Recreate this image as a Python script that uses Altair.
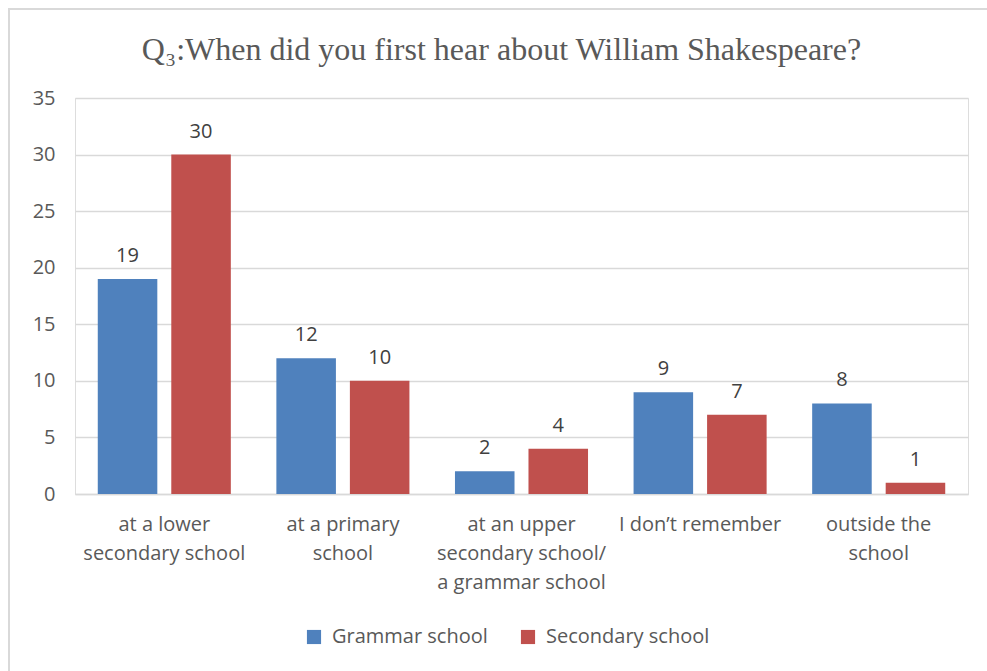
import altair as alt
import pandas as pd

categories = ["at a lower\nsecondary school", "at a primary\nschool",
              "at an upper\nsecondary school/\na grammar school",
              "I don\u2019t remember", "outside the\nschool"]
series = ["Grammar school", "Secondary school"]
grammar = [19, 12, 2, 9, 8]
secondary = [30, 10, 4, 7, 1]
colors = ["#4F81BD", "#C0504D"]

rows = []
for c, g, s in zip(categories, grammar, secondary):
    rows.append({"cat": c, "series": series[0], "value": g})
    rows.append({"cat": c, "series": series[1], "value": s})
df = pd.DataFrame(rows)

FONT = "Open Sans"
FS = 20
W, H = 893, 396

x = alt.X("cat:N", sort=categories, title=None,
          scale=alt.Scale(paddingInner=0.255, paddingOuter=0.1275),
          axis=alt.Axis(labelExpr="split(datum.label, '\\n')", labelAngle=0,
                        labelFont=FONT, labelFontSize=FS, labelColor="#595959",
                        labelPadding=20, labelLineHeight=29, ticks=False,
                        domainColor="#d9d9d9", domainWidth=1.5, labelLimit=300))
xo = alt.XOffset("series:N", sort=series,
                 scale=alt.Scale(paddingInner=0.19, paddingOuter=0))
y = alt.Y("value:Q", title=None,
          scale=alt.Scale(domain=[0, 35], nice=False),
          axis=alt.Axis(values=[0, 5, 10, 15, 20, 25, 30, 35], labelFont=FONT,
                        labelFontSize=FS, labelColor="#595959", labelPadding=20,
                        ticks=False, domain=False, gridColor="#d9d9d9",
                        gridWidth=1.3))
color = alt.Color("series:N", sort=series,
                  scale=alt.Scale(domain=series, range=colors),
                  legend=alt.Legend(title=None, orient="none", direction="horizontal",
                                    legendX=229, legendY=529, symbolType="square",
                                    symbolSize=200, symbolStrokeWidth=0,
                                    labelFont=FONT, labelFontSize=FS, labelLimit=400,
                                    labelColor="#595959", columnPadding=30,
                                    symbolOffset=0, labelOffset=8))

base = alt.Chart(df)
bars = base.mark_bar().encode(x=x, xOffset=xo, y=y, color=color)
labels = base.mark_text(dy=-23, font=FONT, fontSize=FS, color="#404040").encode(
    x=x, xOffset=xo, y=y, text="value:Q")

one = pd.DataFrame({"a": [0]})
frame_left = alt.Chart(one).mark_rule(color="#d9d9d9", strokeWidth=2).encode(
    x=alt.value(-66), y=alt.value(-90), y2=alt.value(600))
frame_top = alt.Chart(one).mark_rule(color="#d9d9d9", strokeWidth=2).encode(
    x=alt.value(-67), x2=alt.value(920), y=alt.value(-89))

chart = alt.layer(frame_left, frame_top, bars, labels).properties(
    width=W, height=H,
    title=alt.Title("Q\u2083:When did you first hear about William Shakespeare?",
                    font="Liberation Serif", fontSize=32, fontWeight="normal",
                    color="#595959", offset=28, dy=88, dx=-20, anchor="middle"),
    autosize=alt.AutoSizeParams(type="none"),
    padding={"left": 75, "top": 98, "right": 19, "bottom": 177},
).configure_view(stroke=None).configure(background="white")

chart.save("out.html", embed_options={"renderer": "svg", "actions": False})
